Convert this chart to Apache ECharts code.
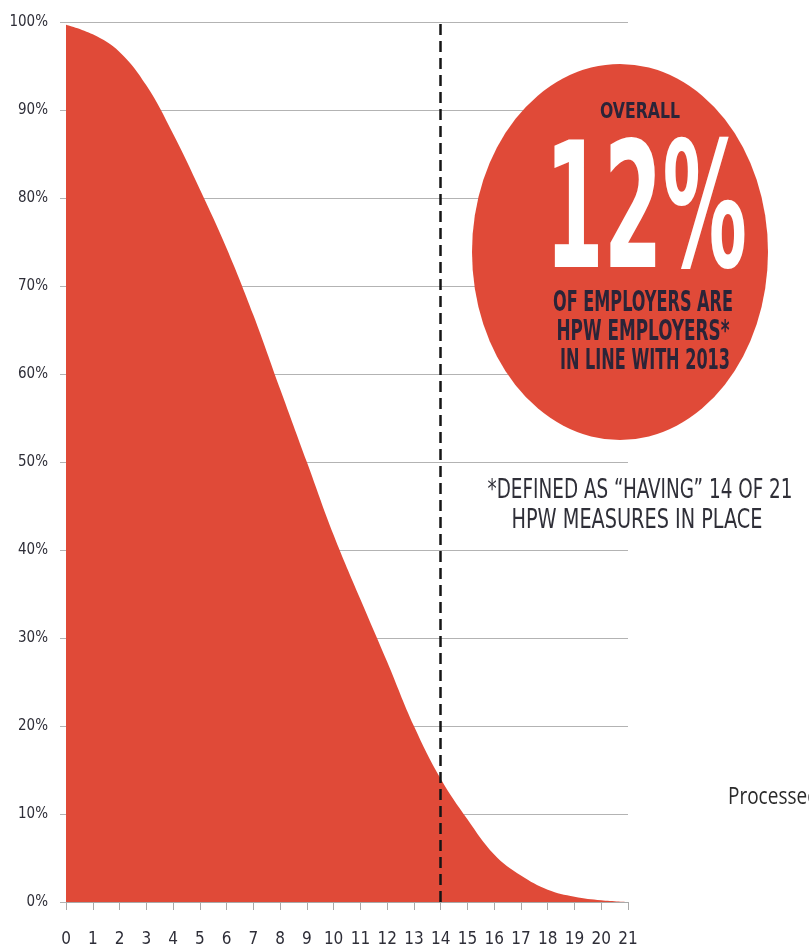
<!DOCTYPE html>
<html>
<head>
<meta charset="utf-8">
<title>HPW measures in place</title>
<script src="https://cdn.jsdelivr.net/npm/echarts@6/dist/echarts.min.js"></script>
<style>
  html, body { margin: 0; padding: 0; background: #ffffff; }
  #chart { width: 809px; height: 944px; }
</style>
</head>
<body>
<div id="chart"></div>
<script>
// Number of HPW measures in place (x) and share of employers with at least that many (y, %)
const measures = [0, 1, 2, 3, 4, 5, 6, 7, 8, 9, 10, 11, 12, 13, 14, 15, 16, 17, 18, 19, 20, 21];
const shareAtLeast = [99.7, 98.6, 96.6, 92.8, 87.3, 81, 74.3, 66.7, 58.3, 50, 41.7, 34.4, 27.3, 20, 14, 9.4, 5.4, 3.0, 1.4, 0.6, 0.2, 0];
const yTicks = [0, 10, 20, 30, 40, 50, 60, 70, 80, 90, 100];
const threshold = 14;

const RED = '#e04a38';
const INK = '#2b2438';
const NARROW = "'Liberation Sans Narrow', 'DejaVu Sans Condensed', sans-serif";
const CONDENSED_BOLD = "'DejaVu Sans Condensed', sans-serif";

// Measure text so that condensed headline lettering can be squeezed to width
const measureCtx = document.createElement('canvas').getContext('2d');
function textWidth(text, font) {
  measureCtx.font = font;
  return measureCtx.measureText(text).width;
}
function fittedText(text, cx, cy, width, size, weight, family, color) {
  const font = weight + ' ' + size + 'px ' + family;
  const sx = width / textWidth(text, font);
  return {
    type: 'text',
    x: cx, y: cy,
    scaleX: sx,
    silent: true,
    z: 20,
    style: {
      text: text,
      x: 0, y: 0,
      fill: color,
      font: font,
      textAlign: 'center',
      textVerticalAlign: 'middle'
    }
  };
}

const chart = echarts.init(document.getElementById('chart'), null, { renderer: 'canvas' });

chart.setOption({
  backgroundColor: '#ffffff',
  animation: false,
  grid: { left: 66, right: 181, top: 22, bottom: 42, containLabel: false, outerBoundsMode: 'none' },
  xAxis: {
    type: 'value',
    min: 0, max: 21, interval: 1,
    axisLine: { show: true, lineStyle: { color: '#a9a9a9', width: 1 } },
    axisTick: { show: true, length: 8, lineStyle: { color: '#a9a9a9' } },
    splitLine: { show: false },
    axisLabel: {
      margin: 29,
      color: '#2e2e38',
      fontFamily: NARROW,
      fontSize: 17,
      formatter: v => String(v)
    }
  },
  yAxis: {
    type: 'value',
    min: yTicks[0], max: yTicks[yTicks.length - 1], interval: 10,
    axisLine: { show: false },
    axisTick: { show: true, length: 6, lineStyle: { color: '#b3b3b3' } },
    splitLine: { show: true, lineStyle: { color: '#b3b3b3', width: 1 } },
    axisLabel: {
      margin: 18,
      color: '#2e2e38',
      fontFamily: NARROW,
      fontSize: 15,
      formatter: v => v + '%'
    }
  },
  series: [{
    type: 'line',
    data: measures.map((m, i) => [m, shareAtLeast[i]]),
    smooth: 0.4,
    showSymbol: false,
    lineStyle: { width: 0 },
    areaStyle: { color: RED, opacity: 1 },
    z: 2,
    markLine: {
      silent: true,
      symbol: ['none', 'none'],
      label: { show: false },
      lineStyle: { color: '#151515', width: 2.5, type: [11, 6] },
      data: [{ xAxis: threshold }],
      z: 5
    }
  }],
  graphic: [
    {
      type: 'circle',
      x: 620, y: 252,
      scaleX: 148 / 188,
      scaleY: 1,
      silent: true,
      z: 10,
      shape: { cx: 0, cy: 0, r: 188 },
      style: { fill: RED }
    },
    fittedText('OVERALL', 640, 113, 80, 21, 'bold', CONDENSED_BOLD, INK),
    fittedText('12%', 646, 222, 202, 174, 'bold', CONDENSED_BOLD, '#ffffff'),
    fittedText('OF EMPLOYERS ARE', 643, 304, 180, 28, 'bold', CONDENSED_BOLD, INK),
    fittedText('HPW EMPLOYERS*', 643, 333, 173, 28, 'bold', CONDENSED_BOLD, INK),
    fittedText('IN LINE WITH 2013', 645, 362, 170, 28, 'bold', CONDENSED_BOLD, INK),
    fittedText('*DEFINED AS \u201CHAVING\u201D 14 OF 21', 640, 491, 305, 26, 'normal', CONDENSED_BOLD, '#2f2f38'),
    fittedText('HPW MEASURES IN PLACE', 637, 521, 251, 26, 'normal', CONDENSED_BOLD, '#2f2f38'),
    {
      type: 'text',
      x: 728, y: 797,
      scaleY: 1.25,
      silent: true,
      z: 20,
      style: {
        text: 'Processed',
        x: 0, y: 0,
        fill: '#2a2a2a',
        fontFamily: 'Open Sans',
        fontSize: 19,
        textAlign: 'left',
        textVerticalAlign: 'middle'
      }
    }
  ]
});
</script>
</body>
</html>
